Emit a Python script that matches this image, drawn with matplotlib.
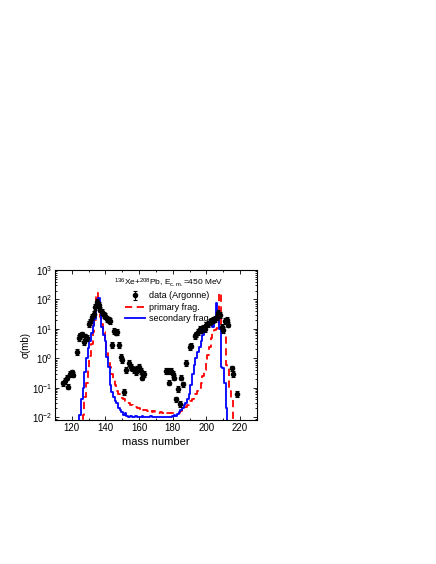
import numpy as np
import matplotlib
matplotlib.use("Agg")
import matplotlib.pyplot as plt
from matplotlib.ticker import MultipleLocator, LogLocator, NullFormatter

plt.rcParams['font.family'] = ['Liberation Sans', 'DejaVu Sans']
plt.rcParams['mathtext.fontset'] = 'custom'
plt.rcParams['mathtext.rm'] = 'Liberation Sans'
plt.rcParams['mathtext.it'] = 'Liberation Sans:italic'

# measured data (Argonne): mass number, cross section (mb)
data_a = [115, 116, 117, 118, 119, 120, 121, 123, 124, 125, 126, 127, 128, 129,
          130, 131, 132, 133, 134, 135, 136, 137, 138, 139, 140, 141, 142, 143,
          144, 145, 146, 147, 148, 149, 150, 151, 152, 154, 155, 156, 157, 158,
          159, 160, 161, 162, 163,
          176, 177, 178, 179, 180, 181, 182, 183, 184, 185, 186, 188, 190, 191,
          193, 194, 195, 196, 197, 198, 199, 200, 201, 202, 203, 204, 205, 206,
          207, 208, 209, 210, 211, 212, 213, 215, 216, 218]
data_s = [0.14, 0.17, 0.22, 0.11, 0.3, 0.33, 0.28, 1.6, 5, 6, 6.5, 3.5, 5.5, 5,
          15, 17, 25, 32, 55, 80, 65, 45, 38, 30, 28, 22, 20, 18,
          2.8, 8.5, 7.5, 7.8, 2.8, 1.1, 0.85, 0.07, 0.4, 0.7, 0.5, 0.45, 0.4, 0.35,
          0.45, 0.5, 0.38, 0.22, 0.3,
          0.36, 0.38, 0.15, 0.36, 0.3, 0.22, 0.04, 0.09, 0.028, 0.22, 0.13, 0.7, 2.4, 2.7,
          5.5, 6.5, 8, 10, 9, 11, 10, 14, 15, 17, 19, 20, 22, 25,
          35, 30, 12, 9, 18, 20, 14, 0.45, 0.3, 0.06]

# model histograms, one bin per mass number
hist_a = list(range(122, 219))
primary = [0.001, 0.001, 0.001, 0.001, 0.003, 0.012, 0.05, 0.15, 0.4, 1.2,
           3, 8, 20, 160, 70, 25, 15, 8, 4, 1.5,
           0.8, 0.5, 0.3, 0.2, 0.12, 0.08, 0.06, 0.05, 0.045, 0.04,
           0.035, 0.03, 0.03, 0.025, 0.025, 0.022, 0.022, 0.02, 0.02, 0.018,
           0.019, 0.017, 0.018, 0.016, 0.017, 0.016, 0.015, 0.016, 0.015, 0.015,
           0.014, 0.015, 0.014, 0.014, 0.015, 0.014, 0.014, 0.014, 0.014, 0.014,
           0.014, 0.014, 0.014, 0.016, 0.018, 0.02, 0.022, 0.025, 0.03, 0.035,
           0.04, 0.05, 0.06, 0.08, 0.1, 0.15, 0.25, 0.4, 0.7, 1.3,
           2.5, 5, 7, 9, 10, 14, 160, 10, 8, 6,
           0.6, 0.5, 0.08, 0.04, 0.003, 0.001, 0.001]
secondary = [0.001, 0.001, 0.003, 0.012, 0.04, 0.1, 0.35, 1.0, 2.2, 4,
             7, 13, 22, 50, 110, 40, 12, 6, 4, 1.1,
             0.5, 0.12, 0.07, 0.05, 0.035, 0.03, 0.02, 0.018, 0.015, 0.012,
             0.014, 0.011, 0.01, 0.011, 0.01, 0.01, 0.011, 0.01, 0.01, 0.01,
             0.011, 0.01, 0.01, 0.01, 0.01, 0.011, 0.01, 0.01, 0.01, 0.01,
             0.01, 0.01, 0.01, 0.01, 0.01, 0.01, 0.01, 0.01, 0.011, 0.012,
             0.011, 0.013, 0.015, 0.018, 0.02, 0.025, 0.03, 0.04, 0.06, 0.12,
             0.3, 0.6, 1.0, 1.6, 2.5, 4, 6, 9, 12, 14,
             15, 15, 12, 18, 75, 30, 10, 0.5, 0.45, 0.15,
             0.02, 0.003, 0.001, 0.001, 0.001, 0.001, 0.001]

fig = plt.figure(figsize=(4.36, 5.64), dpi=100)
ax = fig.add_axes([0.126, 0.2553, 0.4633, 0.266])

ax.step(hist_a, primary, where='mid', color='red', ls=(0, (4, 2.5)), lw=1.3,
        label='primary frag.')
ax.step(hist_a, secondary, where='mid', color='blue', lw=1.3,
        label='secondary frag.')
err = np.array(data_s) * 0.25
ax.errorbar(data_a, data_s, yerr=[err * 0.8, err], fmt='o', color='black',
            ms=3, elinewidth=0.8, capsize=1.2, capthick=0.8,
            label='data (Argonne)')

ax.set_yscale('log')
ax.set_xlim(110, 230)
ax.set_ylim(0.008, 1000)
ax.xaxis.set_major_locator(MultipleLocator(20))
ax.xaxis.set_minor_locator(MultipleLocator(10))
ax.yaxis.set_major_locator(LogLocator(base=10, numticks=10))
ax.yaxis.set_minor_locator(LogLocator(base=10, subs=np.arange(2, 10), numticks=20))
ax.yaxis.set_minor_formatter(NullFormatter())
ax.tick_params(which='both', direction='in', top=True, right=True,
               labelsize=7, width=0.6, pad=2)
ax.tick_params(which='major', length=3)
ax.tick_params(which='minor', length=1.6)
for s in ax.spines.values():
    s.set_linewidth(0.8)

ax.set_xlabel('mass number', fontsize=8, labelpad=3)
ax.set_ylabel('σ(mb)', fontsize=7, labelpad=1)

h, l = ax.get_legend_handles_labels()
order = [2, 0, 1]
leg = ax.legend([h[i] for i in order], [l[i] for i in order], loc='upper left',
                bbox_to_anchor=(0.29, 0.955), frameon=False, fontsize=6.5,
                handlelength=2.2, handletextpad=0.5, labelspacing=0.25,
                borderaxespad=0, borderpad=0,
                title=r'$^{136}$Xe+$^{208}$Pb, E$_{\rm c.m.}$=450 MeV',
                title_fontsize=6)

fig.savefig('out.png', dpi=100)
